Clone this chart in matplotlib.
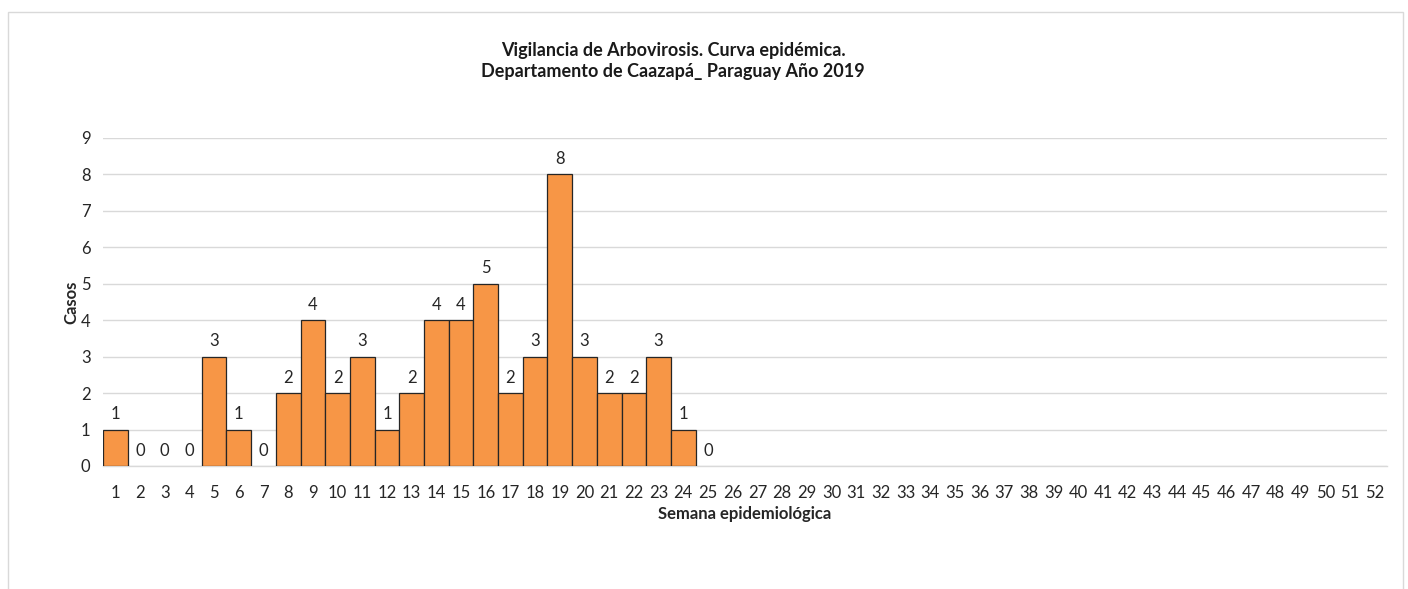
import matplotlib
matplotlib.use("Agg")
import matplotlib.pyplot as plt
from matplotlib.patches import Rectangle

weeks = list(range(1, 53))
cases = [1, 0, 0, 0, 3, 1, 0, 2, 4, 2, 3, 1, 2, 4, 4, 5, 2, 3, 8, 3, 2, 2, 3, 1, 0]
y_ticks = list(range(0, 10))
title = "Vigilancia de Arbovirosis. Curva epidémica.\nDepartamento de Caazapá_ Paraguay Año 2019"
xlabel = "Semana epidemiológica"
ylabel = "Casos"

plt.rcParams['font.family'] = ['Lato', 'DejaVu Sans']

W, H = 1408, 589
fig = plt.figure(figsize=(W / 100, H / 100), dpi=100)
fig.patches.append(Rectangle((8 / W, -0.05), (1403 - 8) / W, 1.05 - 12 / H,
                             transform=fig.transFigure, fill=False,
                             edgecolor='#d9d9d9', linewidth=1.0))

left, right = 103, 1387
top, bottom = 138, 466
ax = fig.add_axes([left / W, 1 - bottom / H, (right - left) / W, (bottom - top) / H])

xs = weeks[:len(cases)]
bars = ax.bar(xs, cases, width=1.0, color='#F79646', edgecolor='#262626', linewidth=0.9, zorder=3)
for b, v in zip(bars, cases):
    if v == 0:
        b.set_linewidth(0)
for x, v in zip(xs, cases):
    ax.text(x, v + 0.2, str(v), ha='center', va='bottom', fontsize=12, color='#262626')

ax.set_xlim(0.5, 52.5)
ax.set_ylim(0, 9)
ax.set_yticks(y_ticks)
ax.set_xticks(weeks)
ax.set_xticklabels([str(w) for w in weeks])
ax.tick_params(axis='both', length=0, labelsize=12, colors='#262626')
ax.tick_params(axis='x', pad=14)
ax.tick_params(axis='y', pad=9)
ax.grid(axis='y', color='#d9d9d9', linewidth=1.0, zorder=0)
for s in ['top', 'right', 'left']:
    ax.spines[s].set_visible(False)
ax.spines['bottom'].set_color('#d9d9d9')
ax.spines['bottom'].set_linewidth(1.0)

ax.set_xlabel(xlabel, fontsize=12, fontweight='bold', color='#262626', labelpad=3)
ax.set_ylabel(ylabel, fontsize=12, fontweight='bold', color='#262626')
ax.yaxis.set_label_coords((71 - left) / (right - left), 0.5)
ax.yaxis.label.set_verticalalignment('center')

fig.text(673 / W, 1 - 61 / H, title, ha='center', va='center', fontsize=13,
         fontweight='bold', color='#1a1a1a', linespacing=1.3)

fig.savefig("out.png", dpi=100)
